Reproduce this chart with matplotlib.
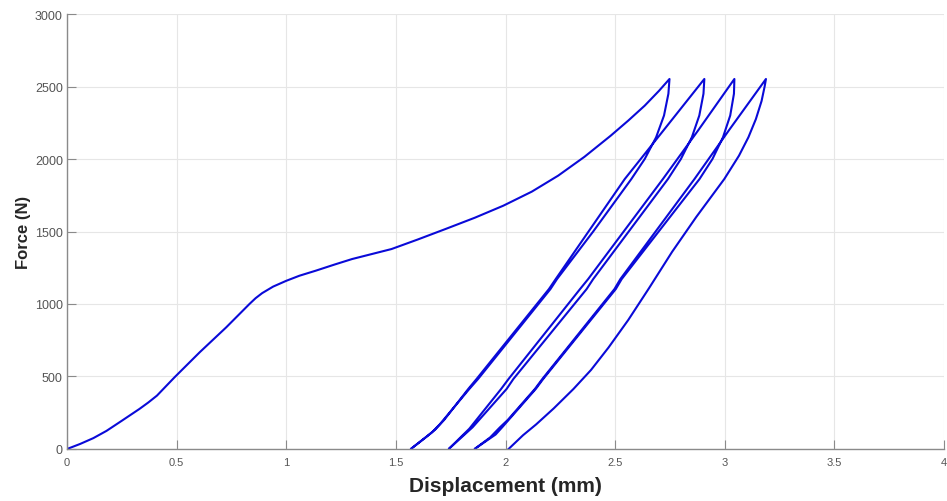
import matplotlib
matplotlib.use("Agg")
import matplotlib.pyplot as plt

# =============================================================================
# DATA — force/displacement cycles (mm, N)
# =============================================================================
load_x = [0, 0.06, 0.12, 0.18, 0.25, 0.33, 0.37, 0.41, 0.49, 0.605, 0.726, 0.832,
          0.86, 0.89, 0.94, 1.0, 1.06, 1.135, 1.22, 1.30, 1.48, 1.60, 1.726,
          1.86, 1.99, 2.12, 2.24, 2.36, 2.48, 2.56, 2.635, 2.70, 2.748]
load_f = [0, 35, 75, 125, 195, 276, 320, 368, 494, 667, 839, 1000,
          1040, 1075, 1120, 1160, 1195, 1230, 1272, 1310, 1379, 1445, 1517,
          1595, 1678, 1775, 1885, 2015, 2161, 2265, 2368, 2470, 2552]

unload1_x = [2.748, 2.743, 2.723, 2.687, 2.635, 2.574, 2.40, 2.235, 2.205,
             1.875, 1.835, 1.70, 1.665, 1.568]
unload1_f = [2552, 2450, 2300, 2150, 2000, 1862, 1500, 1172, 1103,
             483, 414, 170, 115, 0]
reload1_x = [1.568, 1.64, 1.68, 1.72, 1.83, 1.868, 2.198, 2.229, 2.544, 2.722, 2.907]
reload1_f = [0, 85, 135, 200, 414, 483, 1103, 1172, 1862, 2200, 2552]

unload2_x = [2.907, 2.903, 2.884, 2.85, 2.80, 2.741, 2.40, 2.37, 2.036, 2.005, 1.85, 1.741]
unload2_f = [2552, 2450, 2300, 2150, 2000, 1862, 1172, 1103, 483, 414, 150, 0]
reload2_x = [1.741, 1.835, 1.98, 2.014, 2.34, 2.377, 2.718, 2.88, 3.044]
reload2_f = [0, 140, 414, 483, 1103, 1172, 1862, 2200, 2552]

unload3_x = [3.044, 3.042, 3.025, 2.992, 2.944, 2.885, 2.53, 2.503, 2.172, 2.138,
             1.985, 1.955, 1.859]
unload3_f = [2552, 2450, 2300, 2150, 2000, 1862, 1172, 1103, 483, 414,
             150, 100, 0]
reload3_x = [1.859, 1.93, 1.975, 2.01, 2.134, 2.168, 2.497, 2.524, 2.862, 3.02, 3.188]
reload3_f = [0, 80, 150, 200, 414, 483, 1103, 1172, 1862, 2200, 2552]

unload4_x = [3.188, 3.182, 3.168, 3.142, 3.108, 3.065, 2.998, 2.87, 2.76, 2.655,
             2.56, 2.47, 2.39, 2.31, 2.22, 2.14, 2.08, 2.014]
unload4_f = [2552, 2500, 2400, 2275, 2150, 2023, 1862, 1600, 1360, 1110,
             890, 700, 545, 414, 280, 170, 95, 0]

# one continuous test record
disp = (load_x + unload1_x[1:] + reload1_x[1:] + unload2_x[1:] + reload2_x[1:]
        + unload3_x[1:] + reload3_x[1:] + unload4_x[1:])
force = (load_f + unload1_f[1:] + reload1_f[1:] + unload2_f[1:] + reload2_f[1:]
         + unload3_f[1:] + reload3_f[1:] + unload4_f[1:])

x_ticks = [0, 0.5, 1, 1.5, 2, 2.5, 3, 3.5, 4]
y_ticks = [0, 500, 1000, 1500, 2000, 2500, 3000]

# =============================================================================
# PLOT
# =============================================================================
plt.rcParams['font.family'] = ['Liberation Sans', 'DejaVu Sans']

fig = plt.figure(figsize=(9.47, 5.02), dpi=100)
ax = fig.add_axes([0.0708, 0.1036, 0.926, 0.8665])

ax.plot(disp, force, color='#0a0ad8', linewidth=1.5)

ax.set_xlim(0, 4)
ax.set_ylim(0, 3000)
ax.set_xticks(x_ticks)
ax.set_xticklabels([f"{t:g}" for t in x_ticks])
ax.set_yticks(y_ticks)

ax.grid(True, color='#e6e6e6', linewidth=0.8)
ax.set_axisbelow(True)
for side in ('top', 'right'):
    ax.spines[side].set_visible(False)
for side in ('left', 'bottom'):
    ax.spines[side].set_color('#8a8a8a')
    ax.spines[side].set_linewidth(1.0)

ax.tick_params(axis='both', direction='in', length=6.5, width=0.8,
               color='#8a8a8a', labelcolor='#555555')
ax.tick_params(axis='x', labelsize=8, pad=6)
ax.tick_params(axis='y', labelsize=9, pad=3)

ax.set_xlabel('Displacement (mm)', fontsize=15, fontweight='bold',
              color='#262626', labelpad=6)
ax.set_ylabel('Force (N)', fontsize=12, fontweight='bold',
              color='#262626', labelpad=3)

fig.savefig('out.png', dpi=100)
